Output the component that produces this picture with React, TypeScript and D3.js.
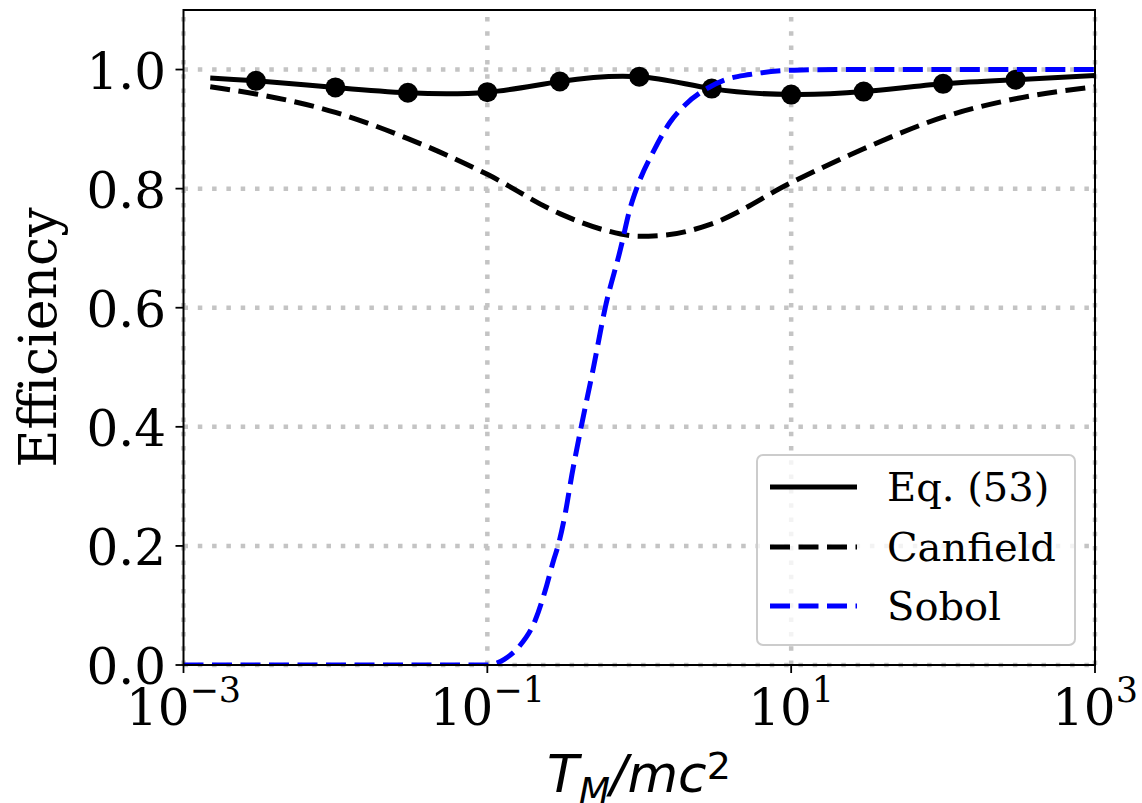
import React from "react";
import * as d3 from "d3";

// Eq. (53): smooth curve with sampled points shown as markers (interior points)
const eqX = [0.0015, 0.003, 0.01, 0.03, 0.1, 0.3, 1, 3, 10, 30, 100, 300, 1000];
const eqY = [0.986, 0.981, 0.970, 0.961, 0.962, 0.980, 0.988, 0.968, 0.958, 0.963, 0.976, 0.983, 0.990];

// Canfield efficiency
const canfieldX = [0.0015, 0.003, 0.01, 0.03, 0.1, 0.3, 0.6, 1, 1.5, 3, 10, 30, 100, 300, 1000];
const canfieldY = [0.971, 0.959, 0.928, 0.884, 0.824, 0.758, 0.730, 0.720, 0.722, 0.741, 0.810, 0.867, 0.920, 0.951, 0.971];

// Sobol efficiency
const sobolX = [0.001, 0.1, 0.115, 0.13, 0.162, 0.207, 0.241, 0.273, 0.292, 0.326, 0.36, 0.415, 0.5, 0.597, 0.75, 0.873, 0.96, 1.26, 1.59, 2.01, 2.83, 3.69, 5.33, 10.5, 20, 1000];
const sobolY = [0, 0, 0.003, 0.01, 0.031, 0.0756, 0.126, 0.176, 0.2, 0.255, 0.319, 0.4, 0.5, 0.6, 0.697, 0.768, 0.8, 0.866, 0.911, 0.941, 0.969, 0.983, 0.9916, 0.999, 1.0, 1.0];

const xTickExps = [-3, -1, 1, 3];
const yTicks = [0.0, 0.2, 0.4, 0.6, 0.8, 1.0];
const legendLabels = ["Eq. (53)", "Canfield", "Sobol"];

const W = 1142;
const H = 803;
const left = 183.5;
const right = 1095;
const top = 10;
const bottom = 665;

const SERIF = "'DejaVu Serif', serif";
const SANS = "'DejaVu Sans', sans-serif";

export default function App() {
  const x = d3.scaleLog().domain([1e-3, 1e3]).range([left, right]);
  const y = d3.scaleLinear().domain([0, 1.1]).range([bottom, top]);

  const zip = (xs: number[], ys: number[]) => xs.map((v, i) => [v, ys[i]] as [number, number]);

  const smooth = d3
    .line<[number, number]>()
    .x((d) => x(d[0]))
    .y((d) => y(d[1]))
    .curve(d3.curveNatural);
  const mono = d3
    .line<[number, number]>()
    .x((d) => x(d[0]))
    .y((d) => y(d[1]))
    .curve(d3.curveMonotoneX);

  const eqPts = zip(eqX, eqY);
  const markerPts = eqPts.slice(1, -1);

  const dash = "20 8.5";
  const gridDash = "4.5 9.8";
  const gridColor = "#c4c4c4";

  const legendX = 757;
  const legendY = 455;
  const rows = [487, 547, 606];
  const legendStyles = [
    { stroke: "#000", dash: undefined as string | undefined },
    { stroke: "#000", dash },
    { stroke: "#0000ff", dash },
  ];

  return (
    <svg
      width={W}
      height={H}
      style={{ position: "absolute", left: 0, top: 0, background: "#fff" }}
    >
      <defs>
        <clipPath id="plotArea">
          <rect x={left} y={top} width={right - left} height={bottom - top} />
        </clipPath>
      </defs>
      <rect x={0} y={0} width={W} height={H} fill="#fff" />

      {/* grid */}
      <g stroke={gridColor} strokeWidth={4.5} strokeDasharray={gridDash} fill="none">
        {xTickExps.map((e) => (
          <line key={"gx" + e} x1={x(Math.pow(10, e))} x2={x(Math.pow(10, e))} y1={bottom} y2={top} />
        ))}
        {yTicks.map((t) => (
          <line key={"gy" + t} x1={left} x2={right} y1={y(t)} y2={y(t)} />
        ))}
      </g>

      {/* series */}
      <g clipPath="url(#plotArea)" fill="none">
        <path d={smooth(eqPts) || ""} stroke="#000" strokeWidth={5} strokeLinejoin="round" />
        {markerPts.map((p, i) => (
          <circle key={"m" + i} cx={x(p[0])} cy={y(p[1])} r={10} fill="#000" />
        ))}
        <path d={mono(zip(canfieldX, canfieldY)) || ""} stroke="#000" strokeWidth={5} strokeDasharray={dash} />
        <path d={mono(zip(sobolX, sobolY)) || ""} stroke="#0000ff" strokeWidth={5} strokeDasharray={dash} />
      </g>

      {/* spines */}
      <rect x={left} y={top} width={right - left} height={bottom - top} fill="none" stroke="#000" strokeWidth={2} />

      {/* y axis ticks and labels */}
      {yTicks.map((t) => (
        <g key={"yt" + t}>
          <line x1={left - 8} x2={left} y1={y(t)} y2={y(t)} stroke="#000" strokeWidth={1.8} />
          <text x={166} y={y(t) + 19} textAnchor="end" fontFamily={SERIF} fontSize={50} fill="#000">
            {t.toFixed(1)}
          </text>
        </g>
      ))}

      {/* x axis ticks and labels */}
      {xTickExps.map((e) => (
        <g key={"xt" + e}>
          <line x1={x(Math.pow(10, e))} x2={x(Math.pow(10, e))} y1={bottom} y2={bottom + 8} stroke="#000" strokeWidth={1.8} />
          <text x={x(Math.pow(10, e))} y={725} textAnchor="middle" fontFamily={SERIF} fontSize={50} fill="#000">
            10
            <tspan fontSize={35} dy={-23}>
              {e < 0 ? "\u2212" + Math.abs(e) : String(e)}
            </tspan>
          </text>
        </g>
      ))}

      {/* axis titles */}
      <text
        x={639}
        y={792}
        textAnchor="middle"
        fontFamily={SANS}
        fontStyle="italic"
        fontSize={52}
        fill="#000"
      >
        T
        <tspan fontSize={36} dy={11}>M</tspan>
        <tspan dy={-11}>/mc</tspan>
        <tspan fontSize={38} fontStyle="normal" dy={-13}>2</tspan>
      </text>
      <text
        transform={`translate(56, ${(top + bottom) / 2}) rotate(-90)`}
        textAnchor="middle"
        fontFamily={SERIF}
        fontSize={52}
        fill="#000"
      >
        Efficiency
      </text>

      {/* legend */}
      <g>
        <rect
          x={legendX}
          y={legendY}
          width={318}
          height={190}
          rx={6}
          ry={6}
          fill="#fff"
          fillOpacity={0.8}
          stroke="#cccccc"
          strokeWidth={2}
        />
        {legendLabels.map((label, i) => (
          <g key={label}>
            <line
              x1={770}
              x2={857}
              y1={rows[i]}
              y2={rows[i]}
              stroke={legendStyles[i].stroke}
              strokeWidth={5}
              strokeDasharray={legendStyles[i].dash}
            />
            <text x={887} y={rows[i] + 14} fontFamily={SERIF} fontSize={40} fill="#000">
              {label}
            </text>
          </g>
        ))}
      </g>
    </svg>
  );
}
